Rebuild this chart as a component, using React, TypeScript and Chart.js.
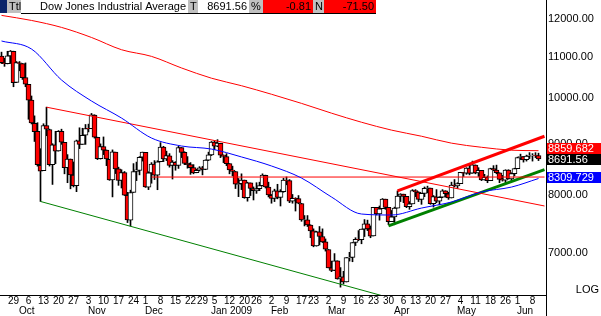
import React, { useEffect, useRef } from "react";
import { Chart, registerables } from "chart.js";

Chart.register(...registerables);

const FONT = '"Liberation Sans", Arial, sans-serif';

// Trading days shown on the category axis (last two slots are empty)
const tradingDays: [string, number[]][] = [
  ["2008-09", [23, 24, 25, 26, 29, 30]],
  ["2008-10", [1, 2, 3, 6, 7, 8, 9, 10, 13, 14, 15, 16, 17, 20, 21, 22, 23, 24, 27, 28, 29, 30, 31]],
  ["2008-11", [3, 4, 5, 6, 7, 10, 11, 12, 13, 14, 17, 18, 19, 20, 21, 24, 25, 26, 28]],
  ["2008-12", [1, 2, 3, 4, 5, 8, 9, 10, 11, 12, 15, 16, 17, 18, 19, 22, 23, 24, 26, 29, 30, 31]],
  ["2009-01", [2, 5, 6, 7, 8, 9, 12, 13, 14, 15, 16, 20, 21, 22, 23, 26, 27, 28, 29, 30]],
  ["2009-02", [2, 3, 4, 5, 6, 9, 10, 11, 12, 13, 17, 18, 19, 20, 23, 24, 25, 26, 27]],
  ["2009-03", [2, 3, 4, 5, 6, 9, 10, 11, 12, 13, 16, 17, 18, 19, 20, 23, 24, 25, 26, 27, 30, 31]],
  ["2009-04", [1, 2, 3, 6, 7, 8, 9, 13, 14, 15, 16, 17, 20, 21, 22, 23, 24, 27, 28, 29, 30]],
  ["2009-05", [1, 4, 5, 6, 7, 8, 11, 12, 13, 14, 15, 18, 19, 20, 21, 22, 26, 27, 28, 29]],
  ["2009-06", [1, 2, 3, 4, 5, 8, 9, 10, 11, 12]],
];
const dates: string[] = tradingDays.flatMap(([m, ds]) =>
  ds.map((d) => `${m}-${String(d).padStart(2, "0")}`)
);

// OHLC values (Sep 23 2008 .. Jun 10 2009)
const openV = [
  11015, 10854, 10826, 11021, 11139, 10368,
  10847, 10828, 10483, 10322, 9955, 9437, 9262, 8568, 8463, 9388, 9301, 8577, 8979, 8853, 9266, 9033, 8519, 8692, 8377, 8176, 9065, 8991, 9180,
  9326, 9320, 9617, 9135, 8696, 8943, 8870, 8683, 8282, 8830, 8497, 8274, 8424, 7995, 7551, 8048, 8445, 8465, 8727,
  8827, 8148, 8416, 8590, 8376, 8637, 8932, 8691, 8757, 8562, 8627, 8565, 8922, 8825, 8604, 8580, 8520, 8420, 8470, 8515, 8484, 8668,
  8772, 9035, 8955, 9013, 8770, 8739, 8599, 8473, 8446, 8198, 8213, 8279, 7949, 8226, 8121, 8077, 8117, 8175, 8373, 8147,
  7995, 7936, 8079, 7956, 8063, 8280, 8269, 7888, 7938, 7933, 7845, 7555, 7555, 7465, 7366, 7115, 7350, 7270, 7180,
  7056, 6764, 6726, 6874, 6595, 6625, 6547, 6925, 6930, 7171, 7223, 7217, 7394, 7486, 7400, 7279, 7775, 7660, 7751, 7923, 7774, 7523,
  7606, 7763, 7978, 8016, 7974, 7789, 7838, 8083, 8056, 7918, 8030, 8126, 8128, 7840, 7968, 7886, 7958, 8075, 8023, 7945, 8186,
  8167, 8213, 8425, 8411, 8512, 8412, 8573, 8418, 8467, 8284, 8331, 8268, 8504, 8474, 8420, 8293, 8276, 8472, 8300, 8404,
  8501, 8722, 8739, 8676, 8751, 8763, 8764, 8763,
];
const highV = [
  11118, 10963, 11140, 11160, 11143, 10880,
  10880, 10830, 10845, 10322, 10050, 9600, 9450, 8901, 9427, 9794, 9311, 9004, 9265, 9280, 9310, 9033, 8780, 8692, 8633, 9079, 9340, 9330, 9411,
  9419, 9654, 9625, 9140, 9000, 9145, 8874, 8683, 8876, 8830, 8530, 8480, 8445, 8050, 8090, 8600, 8630, 8740, 8831,
  8827, 8441, 8620, 8660, 8658, 9026, 8950, 8850, 8800, 8660, 8640, 8950, 8925, 8840, 8740, 8620, 8580, 8490, 8540, 8545, 8676, 8830,
  9050, 9070, 9088, 9013, 8775, 8800, 8600, 8550, 8446, 8310, 8400, 8280, 8240, 8226, 8150, 8230, 8240, 8400, 8375, 8240,
  8010, 8108, 8200, 8100, 8315, 8340, 8290, 8010, 7950, 7990, 7848, 7630, 7630, 7470, 7400, 7360, 7440, 7400, 7230,
  7056, 6870, 6990, 6875, 6768, 6710, 6926, 7010, 7170, 7250, 7370, 7396, 7560, 7550, 7450, 7776, 7776, 7800, 7935, 7924, 7774, 7720,
  7780, 8075, 8025, 8016, 7975, 7880, 8100, 8100, 8060, 8035, 8150, 8165, 8128, 7990, 8100, 7970, 8100, 8080, 8050, 8240, 8290,
  8230, 8430, 8430, 8520, 8600, 8650, 8575, 8520, 8468, 8390, 8360, 8510, 8560, 8570, 8421, 8370, 8480, 8480, 8420, 8510,
  8730, 8790, 8741, 8770, 8820, 8800, 8820, 8810,
];
const lowV = [
  10830, 10760, 10820, 10830, 10266, 10365,
  10650, 10440, 10266, 9525, 9423, 9050, 8550, 7882, 8462, 9171, 8552, 8197, 8600, 8850, 8990, 8400, 8230, 8115, 8150, 8062, 8902, 8990, 8990,
  9251, 9320, 9120, 8680, 8690, 8780, 8560, 8275, 7965, 8405, 8180, 8130, 7990, 7508, 7449, 8048, 8270, 8380, 8650,
  8141, 8100, 8220, 8290, 8098, 8636, 8640, 8660, 8530, 8300, 8470, 8505, 8720, 8580, 8510, 8390, 8400, 8420, 8455, 8380, 8480, 8660,
  8760, 8880, 8941, 8720, 8620, 8560, 8400, 8360, 8120, 7970, 8100, 7940, 7887, 7990, 7909, 8030, 8080, 8170, 8130, 7965,
  7850, 7880, 7930, 7800, 8050, 8190, 7860, 7850, 7710, 7840, 7530, 7450, 7440, 7250, 7100, 7110, 7130, 7170, 7030,
  6763, 6705, 6720, 6590, 6470, 6517, 6547, 6870, 6860, 7120, 7200, 7150, 7270, 7370, 7250, 7279, 7640, 7550, 7751, 7740, 7470, 7523,
  7470, 7763, 7880, 7860, 7770, 7740, 7838, 7970, 7880, 7830, 7970, 8040, 7830, 7780, 7860, 7820, 7950, 7960, 7920, 7945, 8150,
  8120, 8213, 8350, 8390, 8380, 8410, 8400, 8350, 8270, 8280, 8230, 8268, 8460, 8400, 8230, 8260, 8230, 8300, 8260, 8360,
  8500, 8680, 8630, 8650, 8700, 8650, 8720, 8660,
];
const closeV = [
  10854, 10825, 11022, 11143, 10365, 10851,
  10831, 10483, 10325, 9956, 9447, 9258, 8579, 8451, 9388, 9311, 8578, 8979, 8852, 9265, 9034, 8519, 8691, 8379, 8176, 9065, 8991, 9181, 9325,
  9320, 9625, 9139, 8696, 8944, 8871, 8694, 8283, 8835, 8497, 8274, 8425, 7997, 7552, 8046, 8443, 8479, 8727, 8829,
  8149, 8419, 8592, 8376, 8635, 8934, 8691, 8761, 8565, 8630, 8565, 8924, 8824, 8605, 8579, 8520, 8419, 8468, 8516, 8484, 8668, 8776,
  9035, 8953, 9015, 8770, 8742, 8599, 8474, 8449, 8200, 8212, 8281, 7949, 8228, 8123, 8078, 8116, 8175, 8375, 8149, 8001,
  7937, 8078, 7957, 8063, 8281, 8271, 7889, 7940, 7933, 7850, 7553, 7556, 7466, 7366, 7115, 7351, 7271, 7182, 7063,
  6763, 6726, 6876, 6594, 6627, 6547, 6926, 6930, 7170, 7224, 7217, 7396, 7487, 7400, 7278, 7776, 7660, 7750, 7925, 7776, 7522, 7609,
  7762, 7978, 8018, 7976, 7790, 7837, 8083, 8058, 7920, 8030, 8125, 8131, 7842, 7970, 7887, 7957, 8076, 8025, 7946, 8186, 8168,
  8212, 8427, 8411, 8512, 8410, 8575, 8419, 8469, 8285, 8331, 8269, 8504, 8475, 8422, 8292, 8277, 8473, 8300, 8404, 8500,
  8721, 8741, 8675, 8750, 8763, 8764, 8763, 8692,
];

// Moving averages, read at sample dates
const maDates = [
  "2008-09-23", "2008-10-07", "2008-10-21", "2008-11-04", "2008-11-18", "2008-12-03", "2008-12-17",
  "2009-01-02", "2009-01-16", "2009-02-02", "2009-02-17", "2009-03-03", "2009-03-17", "2009-03-31",
  "2009-04-15", "2009-04-29", "2009-05-13", "2009-05-28", "2009-06-10",
];
const ma200 = [12100, 11960, 11770, 11500, 11180, 11010, 10720, 10470, 10290, 10090, 9880, 9660, 9460, 9290, 9160, 9015, 8930, 8870, 8859.682];
const ma50 = [11407, 11198, 10427, 9934, 9552, 9122, 8956, 8893, 8733, 8553, 8319, 7963, 7657, 7640, 7763, 7872, 8056, 8148, 8309.729];

// Trend lines: [start date, start value, end date, end value]
const resistanceDown: [string, number, string, number] = ["2008-10-14", 9794, "2009-06-12", 7800];
const supportDown: [string, number, string, number] = ["2008-10-10", 7882, "2009-06-12", 5722];
const horizontalLine: [string, number, string, number] = ["2008-12-03", 8338, "2009-06-12", 8338];
const channelTop: [string, number, string, number] = ["2009-04-02", 8075, "2009-06-12", 9160];
const channelBottom: [string, number, string, number] = ["2009-03-30", 7450, "2009-06-12", 8480];

const weekTicks = [
  "2008-09-29", "2008-10-06", "2008-10-13", "2008-10-20", "2008-10-27", "2008-11-03", "2008-11-10",
  "2008-11-17", "2008-11-24", "2008-12-01", "2008-12-08", "2008-12-15", "2008-12-22", "2008-12-29",
  "2009-01-05", "2009-01-12", "2009-01-20", "2009-01-26", "2009-02-02", "2009-02-09", "2009-02-17",
  "2009-02-23", "2009-03-02", "2009-03-09", "2009-03-16", "2009-03-23", "2009-03-30", "2009-04-06",
  "2009-04-13", "2009-04-20", "2009-04-27", "2009-05-04", "2009-05-11", "2009-05-18", "2009-05-26",
  "2009-06-01", "2009-06-08",
];
const monthStarts = ["2008-10-01", "2008-11-03", "2008-12-01", "2009-01-02", "2009-02-02", "2009-03-02", "2009-04-01", "2009-05-01", "2009-06-01"];
const monthNames = ["Oct", "Nov", "Dec", "Jan 2009", "Feb", "Mar", "Apr", "May", "Jun"];

const yTicks = [7000, 8000, 9000, 10000, 11000, 12000];
const yMin = 6354;
const yMax = 12139;

const title = "Dow Jones Industrial Average";
const lastValue = "8691.56";
const pctChange = "-0.81";
const netChange = "-71.50";
const lastClose = 8691.56;

const sparse = (ds: string[], vs: number[]) =>
  dates.map((d) => {
    const j = ds.indexOf(d);
    return j >= 0 ? vs[j] : null;
  });
const segment = (t: [string, number, string, number]) => sparse([t[0], t[2]], [t[1], t[3]]);

const overlayPlugin = {
  id: "overlay",
  afterDraw(chart: any) {
    const ctx = chart.ctx as CanvasRenderingContext2D;
    const xs = chart.scales.x;
    const ys = chart.scales.y;
    const area = chart.chartArea;
    ctx.save();

    // month labels
    ctx.font = `10px ${FONT}`;
    ctx.fillStyle = "#000";
    ctx.textAlign = "left";
    ctx.textBaseline = "middle";
    monthStarts.forEach((d, i) => {
      const x = xs.getPixelForValue(dates.indexOf(d));
      ctx.fillText(monthNames[i], Math.round(x - 1), 311);
    });

    // vertical axis line across full height
    ctx.fillStyle = "#000";
    ctx.fillRect(Math.round(area.right), 0, 1, chart.height);

    // LOG label
    ctx.font = `11px ${FONT}`;
    ctx.textAlign = "right";
    ctx.fillText("LOG", 599, 290);

    // value boxes
    const boxH = 11;
    const left = Math.round(area.right) + 1;
    const yLast = ys.getPixelForValue(lastClose);
    const y50 = ys.getPixelForValue(ma50[ma50.length - 1]);
    const blackTop = Math.round(yLast - boxH / 2);
    const boxes: [number, string, string][] = [
      [blackTop - boxH, "#ff0000", String(ma200[ma200.length - 1])],
      [blackTop, "#000000", lastValue],
      [Math.round(y50 - boxH / 2) - 1, "#0000ff", String(ma50[ma50.length - 1])],
    ];
    ctx.textAlign = "left";
    boxes.forEach(([top, col, txt]) => {
      ctx.fillStyle = col;
      ctx.fillRect(left, top, chart.width - left, boxH);
      ctx.fillStyle = "#fff";
      ctx.fillText(txt, left + 1, top + boxH / 2 + 0.5);
    });

    // header bar
    const cells: [number, number, string, string, string, "left" | "right"][] = [
      [0, 7, "#0a246a", "", "#fff", "left"],
      [7, 21, "#c0c0c0", "Ttl", "#000", "left"],
      [21, 188, "#ffffff", title, "#000", "right"],
      [188, 198, "#c0c0c0", "T", "#000", "left"],
      [198, 249, "#ffffff", lastValue, "#000", "right"],
      [249, 263, "#c0c0c0", "%", "#000", "left"],
      [263, 313, "#ff0000", pctChange, "#000", "right"],
      [313, 324, "#c0c0c0", "N", "#000", "left"],
      [324, 376, "#ff0000", netChange, "#000", "right"],
    ];
    ctx.font = `11px ${FONT}`;
    cells.forEach(([x0, x1, bg, txt, fg, al]) => {
      ctx.fillStyle = bg;
      ctx.fillRect(x0, 0, x1 - x0, 13);
      if (txt) {
        ctx.fillStyle = fg;
        ctx.textAlign = al;
        ctx.fillText(txt, al === "left" ? x0 + 2 : x1 - 2, 7);
      }
    });
    ctx.fillStyle = "#000";
    ctx.fillRect(21, 13, 355, 1);
    ctx.restore();
  },
};

export default function App() {
  const ref = useRef<HTMLCanvasElement | null>(null);
  useEffect(() => {
    document.body.style.margin = "0";
    const canvas = ref.current!;
    const lineDs = (data: (number | null)[], color: string, width: number, smooth: boolean) => ({
      type: "line" as const,
      data,
      borderColor: color,
      borderWidth: width,
      pointRadius: 0,
      spanGaps: true,
      tension: smooth ? 0.4 : 0,
      cubicInterpolationMode: smooth ? ("monotone" as const) : ("default" as const),
      clip: 0,
      order: 0,
    });
    const chart = new Chart(canvas, {
      type: "bar",
      data: {
        labels: dates,
        datasets: [
          {
            type: "bar",
            data: lowV.map((l, i) => [l, highV[i]]) as any,
            backgroundColor: "#000",
            borderWidth: 0,
            barThickness: 1,
            grouped: false,
            order: 3,
          },
          {
            type: "bar",
            data: openV.map((o, i) => [o, closeV[i]]) as any,
            backgroundColor: openV.map((o, i) => (closeV[i] >= o ? "#ffffff" : "#ff0000")),
            borderColor: "#000",
            borderWidth: 1,
            borderSkipped: false,
            barThickness: 5,
            grouped: false,
            order: 2,
          },
          lineDs(sparse(maDates, ma200), "#ff0000", 1, true),
          lineDs(sparse(maDates, ma50), "#0000ff", 1, true),
          lineDs(segment(resistanceDown), "#ff0000", 1, false),
          lineDs(segment(horizontalLine), "#ff0000", 1, false),
          lineDs(segment(supportDown), "#008000", 1, false),
          lineDs(segment(channelTop), "#ff0000", 3, false),
          lineDs(segment(channelBottom), "#008000", 3, false),
        ] as any,
      },
      options: {
        responsive: false,
        animation: false,
        devicePixelRatio: 1,
        layout: { padding: { top: 14, left: 0, right: 0, bottom: 0 } },
        plugins: { legend: { display: false }, tooltip: { enabled: false } },
        scales: {
          x: {
            type: "category",
            offset: true,
            grid: { display: false, drawTicks: false },
            border: { display: true, color: "#000", width: 1 },
            ticks: {
              autoSkip: false,
              maxRotation: 0,
              minRotation: 0,
              padding: 0,
              color: "#000",
              font: { family: FONT, size: 10 },
              callback: (_v: any, i: number) =>
                weekTicks.includes(dates[i]) ? String(Number(dates[i].slice(8))) : null,
            },
            afterFit: (s: any) => {
              s.height = 21;
            },
          },
          y: {
            type: "logarithmic",
            position: "right",
            min: yMin,
            max: yMax,
            bounds: "data",
            grid: { display: false, drawTicks: false },
            border: { display: false },
            ticks: {
              autoSkip: false,
              padding: 2,
              color: "#000",
              font: { family: FONT, size: 11 },
              callback: (v: any) => Number(v).toFixed(2),
            },
            afterBuildTicks: (s: any) => {
              s.ticks = yTicks.map((v) => ({ value: v }));
            },
            afterFit: (s: any) => {
              s.width = 55;
            },
          },
        },
      } as any,
      plugins: [overlayPlugin],
    });
    return () => chart.destroy();
  }, []);
  return <canvas ref={ref} width={601} height={316} style={{ display: "block" }} />;
}
